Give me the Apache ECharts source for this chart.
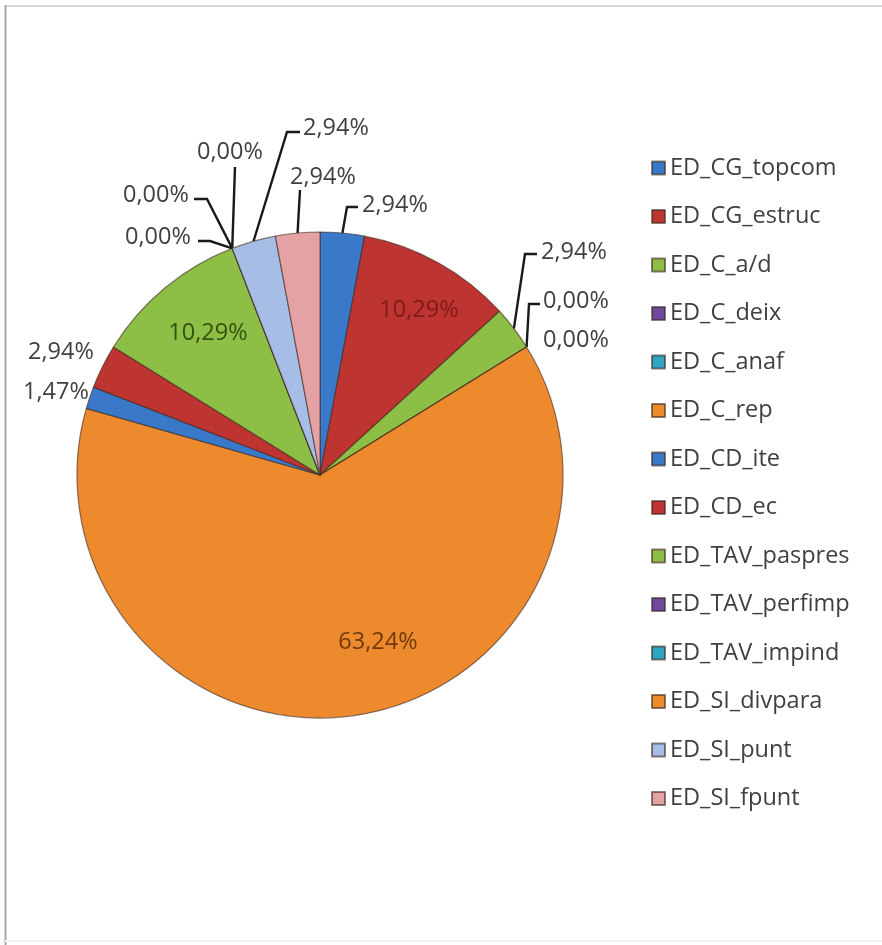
<!DOCTYPE html>
<html>
<head>
<meta charset="utf-8">
<script src="https://cdn.jsdelivr.net/npm/echarts@6/dist/echarts.min.js"></script>
<style>
  html, body { margin: 0; padding: 0; background: #ffffff; }
  #chart { width: 882px; height: 945px; }
</style>
</head>
<body>
<div id="chart"></div>
<script>
// Categories, in clockwise order from 12 o'clock
const categories = [
  'ED_CG_topcom', 'ED_CG_estruc', 'ED_C_a/d', 'ED_C_deix', 'ED_C_anaf', 'ED_C_rep',
  'ED_CD_ite', 'ED_CD_ec', 'ED_TAV_paspres', 'ED_TAV_perfimp', 'ED_TAV_impind',
  'ED_SI_divpara', 'ED_SI_punt', 'ED_SI_fpunt'
];
// Share of each category (%)
const shares = [2.94, 10.29, 2.94, 0.00, 0.00, 63.24, 1.47, 2.94, 10.29, 0.00, 0.00, 0.00, 2.94, 2.94];
// Slice colours
const sliceColors = [
  '#3A78C9', '#BE3431', '#8DBE45', '#6E4A9E', '#2FA5C4', '#EE8A2E',
  '#3A78C9', '#BE3431', '#8DBE45', '#6E4A9E', '#2FA5C4', '#EE8A2E',
  '#A6BEE5', '#E5A2A5'
];

const FONT = 'Open Sans';
const FONT_SIZE = 23.5;
const fmt = v => v.toFixed(2).replace('.', ',') + '%';

// Label anchor per category; elbow/end describe the leader line bend and end point
const labelPlace = {
  'ED_CG_topcom':   { x: 362, y: 205, elbow: [347, 207], end: [358, 207] },
  'ED_CG_estruc':   { x: 419, y: 310, align: 'center', inside: true, color: '#7E1B19' },
  'ED_C_a/d':       { x: 541, y: 252, elbow: [525, 254], end: [537, 254] },
  'ED_C_deix':      { x: 543, y: 301, elbow: [529, 304], end: [540, 304] },
  'ED_C_anaf':      { x: 543, y: 340, noLine: true },
  'ED_C_rep':       { x: 378, y: 642, align: 'center', inside: true, color: '#6E3A0C' },
  'ED_CD_ite':      { x: 23,  y: 392, noLine: true },
  'ED_CD_ec':       { x: 28,  y: 352, noLine: true },
  'ED_TAV_paspres': { x: 208, y: 333, align: 'center', inside: true, color: '#35520F' },
  'ED_TAV_perfimp': { x: 125, y: 237, elbow: [210, 241], end: [198, 241] },
  'ED_TAV_impind':  { x: 123, y: 195, elbow: [207, 199], end: [194, 199] },
  'ED_SI_divpara':  { x: 197, y: 152, elbow: [235, 167], end: [235, 167] },
  'ED_SI_punt':     { x: 303, y: 128, elbow: [287, 132], end: [300, 132] },
  'ED_SI_fpunt':    { x: 290, y: 177, elbow: [300, 190], end: [300, 190] }
};

const pieData = categories.map((name, i) => {
  const p = labelPlace[name];
  const item = {
    name: name,
    value: shares[i],
    itemStyle: { color: sliceColors[i] }
  };
  if (p.inside) {
    item.label = { position: 'inside', color: p.color };
    item.labelLine = { show: false };
  } else if (p.noLine) {
    item.labelLine = { show: false };
  }
  return item;
});

const chart = echarts.init(document.getElementById('chart'), null, { renderer: 'canvas' });

chart.setOption({
  backgroundColor: '#ffffff',
  animation: false,
  color: sliceColors,
  graphic: [
    { type: 'line', shape: { x1: 5, y1: 6, x2: 882, y2: 6 }, style: { stroke: '#D9D9D9', lineWidth: 2 } },
    { type: 'line', shape: { x1: 5.5, y1: 5, x2: 5.5, y2: 945 }, style: { stroke: '#A6A6A6', lineWidth: 2 } },
    { type: 'line', shape: { x1: 5, y1: 941, x2: 882, y2: 941 }, style: { stroke: '#F2F2F2', lineWidth: 2 } }
  ],
  legend: {
    orient: 'vertical',
    left: 646,
    top: 150,
    itemWidth: 13,
    itemHeight: 13,
    itemGap: 22.5,
    icon: 'rect',
    data: categories,
    textStyle: { fontFamily: FONT, fontSize: FONT_SIZE, color: '#404040', lineHeight: 26 }
  },
  series: [{
    type: 'pie',
    center: [320, 475],
    radius: 243,
    startAngle: 90,
    clockwise: true,
    avoidLabelOverlap: false,
    data: pieData,
    itemStyle: { borderColor: 'rgba(60,40,30,0.6)', borderWidth: 1.2 },
    emphasis: { disabled: true },
    label: {
      show: true,
      position: 'outside',
      fontFamily: FONT,
      fontSize: FONT_SIZE,
      color: '#404040',
      formatter: p => fmt(p.value)
    },
    labelLine: {
      show: true,
      length: 15,
      length2: 10,
      lineStyle: { color: '#1A1A1A', width: 2.4 }
    },
    labelLayout: function (params) {
      const name = categories[params.dataIndex];
      const p = labelPlace[name];
      const out = { x: p.x, y: p.y, align: p.align || 'left', verticalAlign: 'middle' };
      if (!p.inside && !p.noLine && params.labelLinePoints) {
        const rim = params.labelLinePoints[0];
        out.labelLinePoints = [rim, p.elbow, p.end];
      }
      return out;
    }
  }]
});
</script>
</body>
</html>
